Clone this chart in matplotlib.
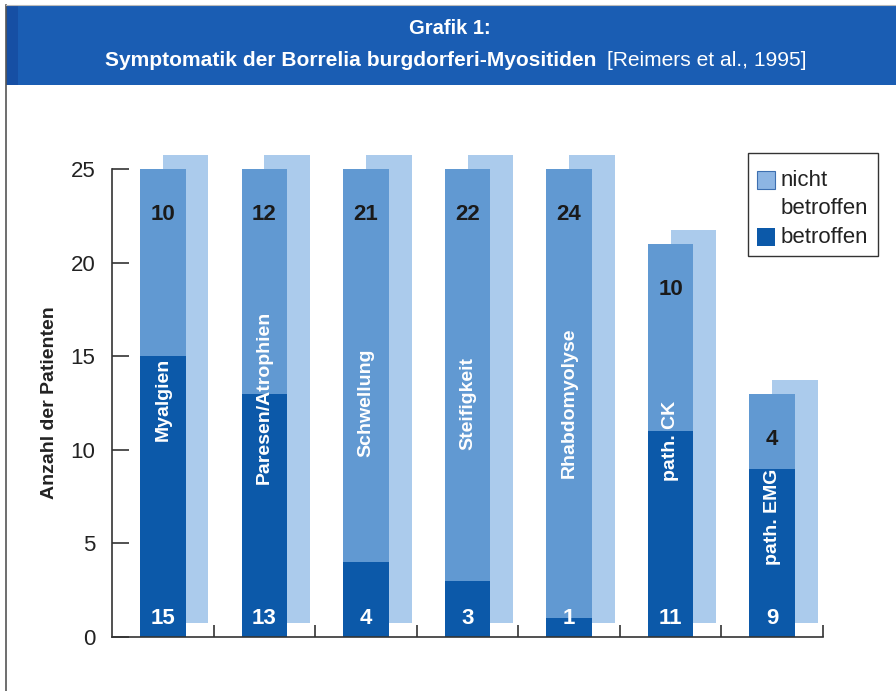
import matplotlib
matplotlib.use("Agg")
import matplotlib.pyplot as plt
from matplotlib.patches import Rectangle

# Daten (Reimers et al., 1995)
symptome = ["Myalgien", "Paresen/Atrophien", "Schwellung", "Steifigkeit",
            "Rhabdomyolyse", "path. CK", "path. EMG"]
betroffen = [15, 13, 4, 3, 1, 11, 9]
nicht_betroffen = [10, 12, 21, 22, 24, 10, 4]
yticks = [0, 5, 10, 15, 20, 25]

# Farben
c_dark = "#0c59a9"
c_mid = "#6199d2"
c_shadow = "#abcbec"
c_head = "#1a5db3"

plt.rcParams["font.family"] = ["Liberation Sans", "DejaVu Sans"]

fig = plt.figure(figsize=(8.96, 6.91), dpi=100)

# Kopfzeile
fig.patches.append(Rectangle((6/896, 1-85/691), 890/896, 80/691, transform=fig.transFigure,
                             facecolor=c_head, edgecolor="none", zorder=0))
fig.patches.append(Rectangle((6/896, 1-85/691), 12/896, 80/691, transform=fig.transFigure,
                             facecolor="#14479a", edgecolor="none", alpha=0.6, zorder=0))
fig.lines.append(plt.Line2D([6/896, 6/896], [0, 1-5/691], transform=fig.transFigure,
                            color="#555555", lw=1.2))
fig.lines.append(plt.Line2D([6/896, 1], [1-5/691, 1-5/691], transform=fig.transFigure,
                            color="#bbbbbb", lw=0.8))
fig.text(450/896, 1-28/691, "Grafik 1:", color="white", fontsize=14.5, fontweight="bold",
         ha="center", va="center")
t1 = fig.text(596/896, 1-61/691, "Symptomatik der Borrelia burgdorferi-Myositiden", color="white",
              fontsize=16, fontweight="bold", ha="right", va="center")
t2 = fig.text(607/896, 1-61/691, "[Reimers et al., 1995]", color="white",
              fontsize=16, ha="left", va="center")

# Breite der Kopfzeile an Vorlage anpassen
r = fig.canvas.get_renderer()
for t, soll in [(t1, 492), (t2, 200)]:
    ist = t.get_window_extent(r).width
    t.set_fontsize(16 * soll / ist)

ax = fig.add_axes([112/896, 1-637/691, 711/896, (637-169)/691])
x = list(range(len(symptome)))
gesamt = [b + n for b, n in zip(betroffen, nicht_betroffen)]
w = 0.45
dx, dy = 0.225, 0.75

# Schatten
ax.bar([i + dx for i in x], gesamt, width=w, bottom=dy, color=c_shadow, zorder=1, clip_on=False)
ax.bar(x, betroffen, width=w, color=c_dark, zorder=2, clip_on=False)
ax.bar(x, nicht_betroffen, width=w, bottom=betroffen, color=c_mid, zorder=2, clip_on=False)

label_y = [12.7, 12.8, 12.5, 12.5, 12.5, 10.5, 6.4]
for i in x:
    ax.text(i, 1.0, str(betroffen[i]), color="white", fontsize=16, fontweight="bold",
            ha="center", va="center", zorder=3)
    ax.text(i, gesamt[i] - 2.45, str(nicht_betroffen[i]), color="#1a1a1a", fontsize=16,
            fontweight="bold", ha="center", va="center", zorder=3)
    ax.text(i, label_y[i], symptome[i], color="white", fontsize=14, fontweight="bold",
            rotation=90, ha="center", va="center", zorder=3)

ax.set_xlim(-0.5, 6.5)
ax.set_ylim(0, 25)
ax.set_yticks(yticks)
ax.set_xticks([i + 0.5 for i in x])
ax.set_xticklabels([])
ax.tick_params(axis="y", direction="in", length=12, width=1.2, labelsize=16, pad=12,
               color="#333333", labelcolor="#222222")
ax.tick_params(axis="x", direction="in", length=9, width=1.2, color="#333333")
for s in ["top", "right"]:
    ax.spines[s].set_visible(False)
for s in ["left", "bottom"]:
    ax.spines[s].set_color("#333333")
    ax.spines[s].set_linewidth(1.2)
ax.patch.set_visible(False)
ax.set_ylabel("Anzahl der Patienten", fontsize=14, fontweight="bold", labelpad=9,
              color="#222222")

# Legende
fig.patches.append(Rectangle((748/896, 1-256/691), 130/896, 103/691, transform=fig.transFigure,
                             facecolor="white", edgecolor="#333333", lw=1.0))
fig.patches.append(Rectangle((757/896, 1-189/691), 18/896, 18/691, transform=fig.transFigure,
                             facecolor="#8db5e3", edgecolor="#3d6fb0", lw=0.8))
fig.patches.append(Rectangle((757/896, 1-246/691), 18/896, 18/691, transform=fig.transFigure,
                             facecolor=c_dark, edgecolor="none"))
fig.text(781/896, 1-180/691, "nicht", fontsize=16, va="center", ha="left", color="#222222")
fig.text(781/896, 1-208/691, "betroffen", fontsize=16, va="center", ha="left", color="#222222")
fig.text(781/896, 1-237/691, "betroffen", fontsize=16, va="center", ha="left", color="#222222")

fig.savefig("out.png", dpi=100)
